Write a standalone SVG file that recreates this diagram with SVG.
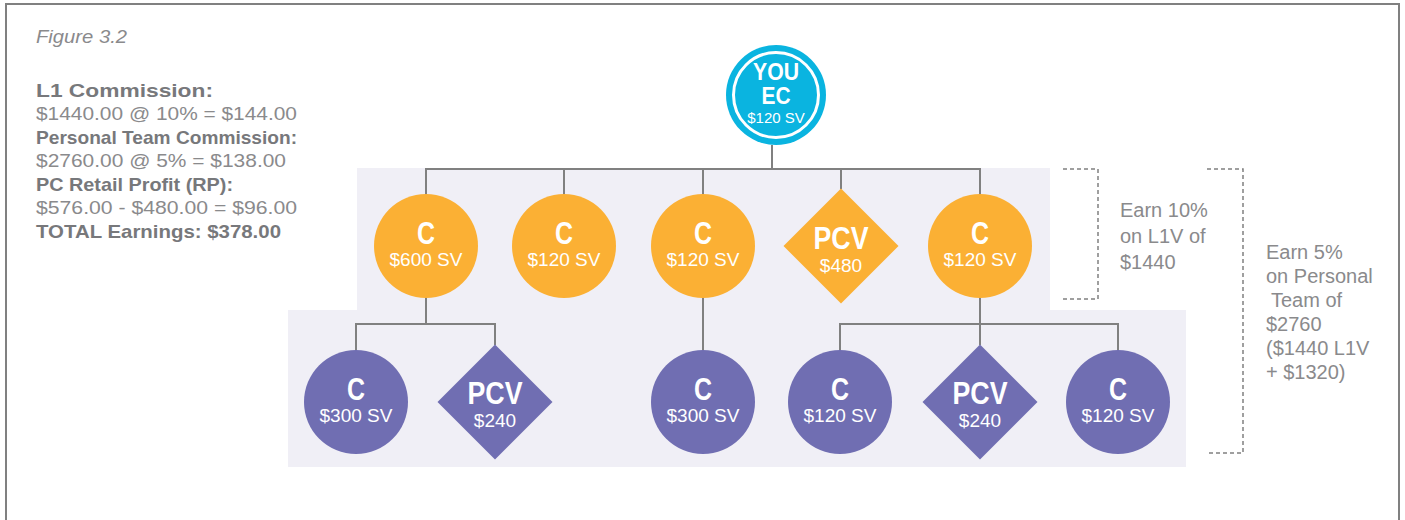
<svg xmlns="http://www.w3.org/2000/svg" width="1405" height="520" viewBox="0 0 1405 520">
<defs>
<style>
.frame{fill:none;stroke:#808080;stroke-width:2}
.bg{fill:#f0eff6}
.conn{fill:none;stroke:#808080;stroke-width:2}
.dash{fill:none;stroke:#808080;stroke-width:1.5;stroke-dasharray:4 3}
.org{fill:#fbb034}
.pur{fill:#706eb2}
.cyan{fill:#0ab4e0}
.big{font-family:"Liberation Sans",Arial,sans-serif;font-weight:bold;font-size:32px;fill:#ffffff;text-anchor:middle}
.you{font-family:"Liberation Sans",Arial,sans-serif;font-weight:bold;font-size:24px;fill:#ffffff;text-anchor:middle}
.sv{font-family:"Liberation Sans",Arial,sans-serif;font-size:19px;fill:#ffffff;text-anchor:middle}
.svs{font-family:"Liberation Sans",Arial,sans-serif;font-size:15px;fill:#ffffff;text-anchor:middle}
.lt{font-family:"Liberation Sans",Arial,sans-serif;font-size:19px;fill:#8a8a8c}
.lb{font-family:"Liberation Sans",Arial,sans-serif;font-size:19px;font-weight:bold;fill:#77787b}
.nt{font-family:"Liberation Sans",Arial,sans-serif;font-size:20px;fill:#8a8a8c}
</style>
</defs>
<rect width="1405" height="520" fill="#ffffff"/>
<rect class="frame" x="6" y="4" width="1393" height="530"/>
<path class="bg" d="M357,168 H1050 V310 H1186 V467 H288 V310 H357 Z"/>

<g id="legend">
<text class="lt" x="36" y="43" font-style="italic" textLength="91" lengthAdjust="spacingAndGlyphs">Figure 3.2</text>
<text class="lb" x="36" y="97" textLength="177" lengthAdjust="spacingAndGlyphs">L1 Commission:</text>
<text class="lt" x="36" y="120" textLength="261" lengthAdjust="spacingAndGlyphs">$1440.00 @ 10% = $144.00</text>
<text class="lb" x="36" y="144" textLength="261" lengthAdjust="spacingAndGlyphs">Personal Team Commission:</text>
<text class="lt" x="36" y="167" textLength="250" lengthAdjust="spacingAndGlyphs">$2760.00 @ 5% = $138.00</text>
<text class="lb" x="36" y="191" textLength="197" lengthAdjust="spacingAndGlyphs">PC Retail Profit (RP):</text>
<text class="lt" x="36" y="214" textLength="261" lengthAdjust="spacingAndGlyphs">$576.00 - $480.00 = $96.00</text>
<text class="lb" x="36" y="238" textLength="245" lengthAdjust="spacingAndGlyphs">TOTAL Earnings: $378.00</text>
</g>

<g id="connectors">
<path class="conn" d="M772,145 V169"/>
<path class="conn" d="M426,194 V169 H980 V194"/>
<path class="conn" d="M564,169 V194"/>
<path class="conn" d="M703,169 V194"/>
<path class="conn" d="M841,169 V189"/>
<path class="conn" d="M426,298 V324"/>
<path class="conn" d="M356,350 V324 H495 V345"/>
<path class="conn" d="M703,298 V350"/>
<path class="conn" d="M980,298 V345"/>
<path class="conn" d="M840,350 V324 H1118 V350"/>
</g>

<g id="brackets">
<path class="dash" d="M1063,169 H1098 V299 H1063"/>
<path class="dash" d="M1207,169 H1243 V453 H1207"/>
</g>

<g id="note-l1">
<text class="nt" x="1120" y="217">Earn 10%</text>
<text class="nt" x="1120" y="243">on L1V of</text>
<text class="nt" x="1120" y="269">$1440</text>
</g>
<g id="note-team">
<text class="nt" x="1266" y="259">Earn 5%</text>
<text class="nt" x="1266" y="283">on Personal</text>
<text class="nt" x="1271" y="307">Team of</text>
<text class="nt" x="1266" y="331">$2760</text>
<text class="nt" x="1266" y="355">($1440 L1V</text>
<text class="nt" x="1266" y="379">+ $1320)</text>
</g>

<g id="you">
<circle class="cyan" cx="776" cy="95" r="50"/>
<circle cx="776" cy="95" r="42.5" fill="none" stroke="#ffffff" stroke-width="3"/>
<text class="you" x="776" y="80" textLength="46" lengthAdjust="spacingAndGlyphs">YOU</text>
<text class="you" x="776" y="104" textLength="29" lengthAdjust="spacingAndGlyphs">EC</text>
<text class="svs" x="776" y="123">$120 SV</text>
</g>

<g id="l1-c600">
<circle class="org" cx="426" cy="246" r="52"/>
<text class="big" x="426" y="244" textLength="18" lengthAdjust="spacingAndGlyphs">C</text>
<text class="sv" x="426" y="266">$600 SV</text>
</g>
<g id="l1-c120a">
<circle class="org" cx="564" cy="246" r="52"/>
<text class="big" x="564" y="244" textLength="18" lengthAdjust="spacingAndGlyphs">C</text>
<text class="sv" x="564" y="266">$120 SV</text>
</g>
<g id="l1-c120b">
<circle class="org" cx="703" cy="246" r="52"/>
<text class="big" x="703" y="244" textLength="18" lengthAdjust="spacingAndGlyphs">C</text>
<text class="sv" x="703" y="266">$120 SV</text>
</g>
<g id="l1-pcv480">
<polygon class="org" points="841,188.5 898.5,246 841,303.5 783.5,246"/>
<text class="big" x="841" y="249" textLength="55" lengthAdjust="spacingAndGlyphs">PCV</text>
<text class="sv" x="841" y="272">$480</text>
</g>
<g id="l1-c120c">
<circle class="org" cx="980" cy="246" r="52"/>
<text class="big" x="980" y="244" textLength="18" lengthAdjust="spacingAndGlyphs">C</text>
<text class="sv" x="980" y="266">$120 SV</text>
</g>

<g id="l2-c300a">
<circle class="pur" cx="356" cy="402" r="52"/>
<text class="big" x="356" y="400" textLength="18" lengthAdjust="spacingAndGlyphs">C</text>
<text class="sv" x="356" y="422">$300 SV</text>
</g>
<g id="l2-pcv240a">
<polygon class="pur" points="495,344.5 552.5,402 495,459.5 437.5,402"/>
<text class="big" x="495" y="404" textLength="55" lengthAdjust="spacingAndGlyphs">PCV</text>
<text class="sv" x="495" y="427">$240</text>
</g>
<g id="l2-c300b">
<circle class="pur" cx="703" cy="402" r="52"/>
<text class="big" x="703" y="400" textLength="18" lengthAdjust="spacingAndGlyphs">C</text>
<text class="sv" x="703" y="422">$300 SV</text>
</g>
<g id="l2-c120a">
<circle class="pur" cx="840" cy="402" r="52"/>
<text class="big" x="840" y="400" textLength="18" lengthAdjust="spacingAndGlyphs">C</text>
<text class="sv" x="840" y="422">$120 SV</text>
</g>
<g id="l2-pcv240b">
<polygon class="pur" points="980,344.5 1037.5,402 980,459.5 922.5,402"/>
<text class="big" x="980" y="404" textLength="55" lengthAdjust="spacingAndGlyphs">PCV</text>
<text class="sv" x="980" y="427">$240</text>
</g>
<g id="l2-c120b">
<circle class="pur" cx="1118" cy="402" r="52"/>
<text class="big" x="1118" y="400" textLength="18" lengthAdjust="spacingAndGlyphs">C</text>
<text class="sv" x="1118" y="422">$120 SV</text>
</g>
</svg>
